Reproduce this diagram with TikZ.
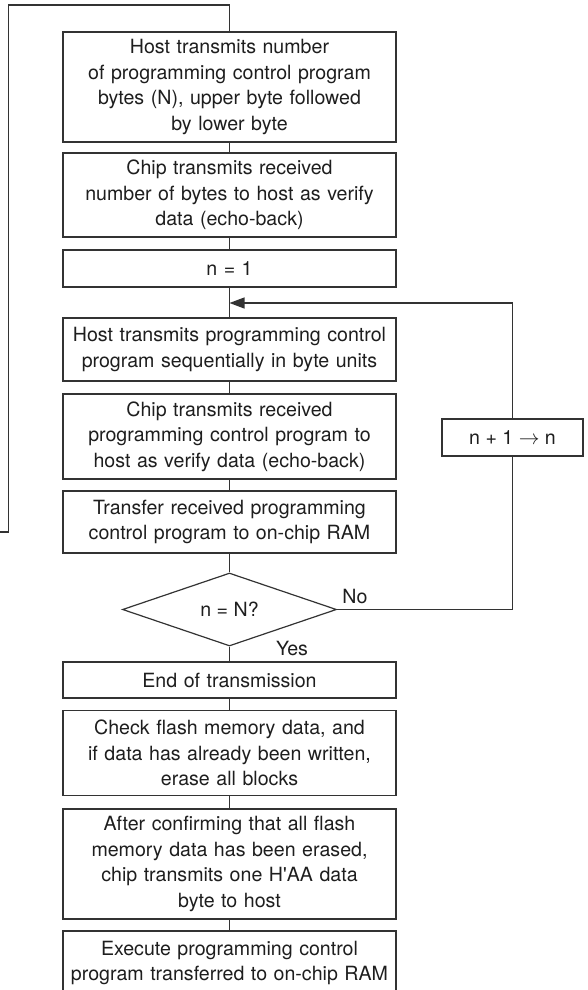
\documentclass[tikz,border=0pt]{standalone}
\usepackage{fontspec}
\setmainfont{TeX Gyre Heros}
\usetikzlibrary{arrows.meta,shapes.geometric}
\definecolor{ln}{HTML}{333333}
\definecolor{tx}{HTML}{1e1e1e}
\begin{document}
\begin{tikzpicture}[x=1pt,y=-1pt,
  every node/.style={font=\fontsize{19.6}{25.5}\selectfont, text=tx},
  stepbox/.style={draw=ln, line width=1.2pt, fill=white, minimum width=333pt, text width=331pt, align=center, inner sep=0pt},
  decide/.style={draw=ln, line width=1.2pt, diamond, aspect=2.93, inner sep=0pt, minimum width=214pt, minimum height=73pt},
  conn/.style={draw=ln, line width=1.2pt},
  lbl/.style={inner sep=0pt}]
\useasboundingbox (0,0) rectangle (587,990);
\node[stepbox, minimum height=110pt] (b1) at (229.5,87) {Host transmits number\\of programming control program\\bytes (N), upper byte followed\\by lower byte};
\node[stepbox, minimum height=84pt] (b2) at (229.5,195) {Chip transmits received\\number of bytes to host as verify\\data (echo-back)};
\node[stepbox, minimum height=37pt] (b3) at (229.5,268.5) {n = 1};
\node[stepbox, minimum height=63pt] (b4) at (229.5,349.5) {Host transmits programming control\\program sequentially in byte units};
\node[stepbox, minimum height=85pt] (b5) at (229.5,436.5) {Chip transmits received\\programming control program to\\host as verify data (echo-back)};
\node[stepbox, minimum height=62pt] (b6) at (229.5,522) {Transfer received programming\\control program to on-chip RAM};
\node[decide] (d) at (229.5,609.5) {n = N?};
\node[stepbox, minimum height=36pt] (b7) at (229.5,680) {End of transmission};
\node[stepbox, minimum height=85pt] (b8) at (229.5,753) {Check flash memory data, and\\if data has already been written,\\erase all blocks};
\node[stepbox, minimum height=110pt] (b9) at (229.5,864) {After confirming that all flash\\memory data has been erased,\\chip transmits one H\textquotesingle AA data\\byte to host};
\node[stepbox, minimum height=64pt] (b10) at (229.5,963) {Execute programming control\\program transferred to on-chip RAM};
\node[draw=ln, line width=1.2pt, fill=white, minimum width=141pt, minimum height=37pt, inner sep=0pt] (inc) at (512.5,437.5) {n + 1 $\rightarrow$ n};
\node[lbl] (no) at (355,596) {No};
\node[lbl] (yes) at (292,648) {Yes};
\coordinate (j) at (229.5,303);
\coordinate (lend) at (0,532);
\path[conn] (b1) -- (b2);
\path[conn] (b2) -- (b3);
\path[conn] (b3) -- (b4);
\path[conn] (b4) -- (b5);
\path[conn] (b5) -- (b6);
\path[conn] (b6) -- (d);
\path[conn] (d) -- (b7);
\path[conn] (b7) -- (b8);
\path[conn] (b8) -- (b9);
\path[conn] (b9) -- (b10);
\path[conn] (d.east) -- (512.5,609.5) -- (inc.south);
\path[conn, -{Triangle[length=15pt,width=11pt]}] (inc.north) -- (512.5,303) -- (j);
\path[conn] (b1.north) -- (229.5,5) -- (8.5,5) -- (8.5,532) -- (lend);
\end{tikzpicture}
\end{document}
